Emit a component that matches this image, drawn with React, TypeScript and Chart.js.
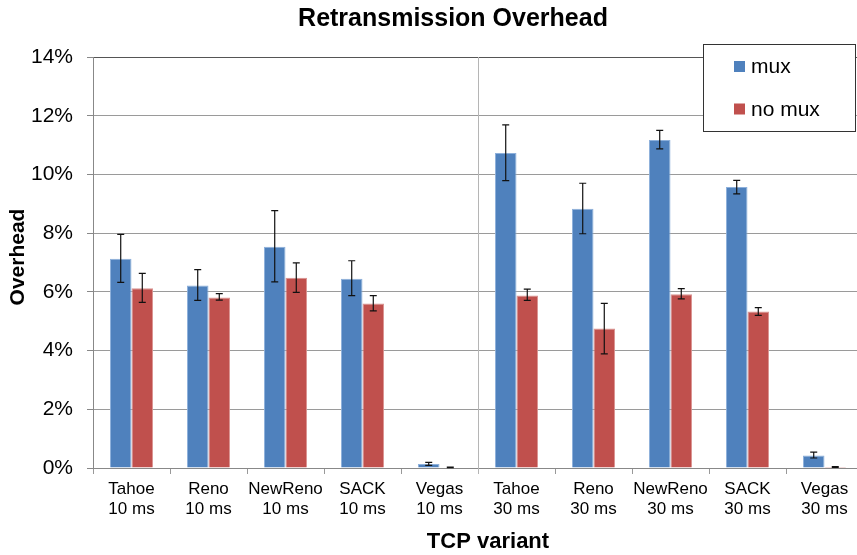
import React, { useEffect, useRef } from "react";
import { Chart, registerables } from "chart.js";

Chart.register(...registerables);

// TCP variants and link delays (x categories)
const variants = ["Tahoe", "Reno", "NewReno", "SACK", "Vegas", "Tahoe", "Reno", "NewReno", "SACK", "Vegas"];
const delays = ["10 ms", "10 ms", "10 ms", "10 ms", "10 ms", "30 ms", "30 ms", "30 ms", "30 ms", "30 ms"];

// Retransmission overhead in percent
const muxValues = [7.13, 6.22, 7.54, 6.45, 0.14, 10.73, 8.83, 11.17, 9.57, 0.43];
const muxLow = [6.32, 5.71, 6.34, 5.87, 0.09, 9.79, 7.98, 10.87, 9.34, 0.34];
const muxHigh = [7.96, 6.76, 8.77, 7.06, 0.19, 11.69, 9.7, 11.5, 9.8, 0.54];

const noMuxValues = [6.12, 5.81, 6.48, 5.6, 0.02, 5.88, 4.75, 5.92, 5.33, 0.035];
const noMuxLow = [5.64, 5.72, 5.98, 5.35, 0.01, 5.71, 3.89, 5.76, 5.2, 0.02];
const noMuxHigh = [6.63, 5.94, 6.99, 5.87, 0.03, 6.09, 5.61, 6.11, 5.46, 0.05];

// Y axis ticks
const yTicks = [0, 2, 4, 6, 8, 10, 12, 14];

const FONT = "'Liberation Sans', Arial, Helvetica, sans-serif";

const errorRanges = [
  { low: muxLow, high: muxHigh },
  { low: noMuxLow, high: noMuxHigh },
];

const decorations = {
  id: "decorations",
  beforeDatasetsDraw(chart: any) {
    const { ctx, chartArea, scales } = chart;
    const xs = scales.x;
    // separator between the 10 ms and 30 ms groups
    const sep = (xs.getPixelForValue(4) + xs.getPixelForValue(5)) / 2;
    ctx.save();
    ctx.strokeStyle = "#b5b5b5";
    ctx.lineWidth = 1;
    ctx.beginPath();
    ctx.moveTo(Math.round(sep) + 0.5, chartArea.top);
    ctx.lineTo(Math.round(sep) + 0.5, chartArea.bottom + 6);
    ctx.stroke();
    ctx.restore();
  },
  afterDatasetsDraw(chart: any) {
    const { ctx, scales } = chart;
    const ys = scales.y;
    ctx.save();
    ctx.strokeStyle = "#111";
    ctx.lineWidth = 1.2;
    errorRanges.forEach((r, di) => {
      const meta = chart.getDatasetMeta(di);
      meta.data.forEach((el: any, i: number) => {
        const x = el.x;
        const yl = ys.getPixelForValue(r.low[i]);
        const yh = ys.getPixelForValue(r.high[i]);
        const cap = 3.5;
        ctx.beginPath();
        ctx.moveTo(x, yl);
        ctx.lineTo(x, yh);
        ctx.moveTo(x - cap, yl);
        ctx.lineTo(x + cap, yl);
        ctx.moveTo(x - cap, yh);
        ctx.lineTo(x + cap, yh);
        ctx.stroke();
      });
    });
    ctx.restore();
  },
  afterDraw(chart: any) {
    const { ctx, data } = chart;
    ctx.save();
    // chart title
    ctx.fillStyle = "#000";
    ctx.font = `bold 25px ${FONT}`;
    ctx.textAlign = "center";
    ctx.textBaseline = "alphabetic";
    ctx.fillText("Retransmission Overhead", 453, 26);

    // axis titles
    ctx.font = `bold 22px ${FONT}`;
    ctx.textBaseline = "middle";
    ctx.fillText("TCP variant", 488, 542);

    ctx.save();
    ctx.translate(18, 257);
    ctx.rotate(-Math.PI / 2);
    ctx.font = `bold 21px ${FONT}`;
    ctx.fillText("Overhead", 0, 0);
    ctx.restore();

    // legend box
    const bx = 703.5, by = 44.5, bw = 152, bh = 87;
    ctx.fillStyle = "#fff";
    ctx.fillRect(bx, by, bw, bh);
    ctx.strokeStyle = "#333";
    ctx.lineWidth = 1;
    ctx.strokeRect(bx, by, bw, bh);
    ctx.font = `21px ${FONT}`;
    ctx.textAlign = "left";
    ctx.textBaseline = "middle";
    const rows = [66.5, 109];
    data.datasets.forEach((ds: any, i: number) => {
      ctx.fillStyle = ds.backgroundColor;
      ctx.fillRect(734, rows[i] - 5.5, 11, 11);
      ctx.fillStyle = "#000";
      ctx.fillText(ds.label, 751, rows[i] + 1);
    });
    ctx.restore();
  },
};

export default function App() {
  const ref = useRef<HTMLCanvasElement | null>(null);

  useEffect(() => {
    if (!ref.current) return;
    const chart = new Chart(ref.current, {
      type: "bar",
      data: {
        labels: variants.map((v, i) => [v, delays[i]]),
        datasets: [
          {
            label: "mux",
            data: muxValues,
            backgroundColor: "#4F81BD",
            borderColor: "#8DB0DB",
            borderWidth: 1,
            categoryPercentage: 0.56,
            barPercentage: 1,
          },
          {
            label: "no mux",
            data: noMuxValues,
            backgroundColor: "#C0504D",
            borderColor: "#D99391",
            borderWidth: 1,
            categoryPercentage: 0.56,
            barPercentage: 1,
          },
        ],
      },
      options: {
        responsive: false,
        animation: false,
        devicePixelRatio: 1,
        layout: { padding: { top: 57, right: 7, left: 0, bottom: 0 } },
        plugins: {
          legend: { display: false },
          title: { display: false },
          tooltip: { enabled: false },
        },
        scales: {
          x: {
            afterFit: (s: any) => {
              s.height = 87;
            },
            grid: {
              offset: true,
              drawOnChartArea: false,
              tickLength: 6,
              color: "#999",
            },
            border: { color: "#888", width: 1 },
            ticks: {
              color: "#000",
              font: { family: FONT, size: 17 },
              padding: 5,
              maxRotation: 0,
              autoSkip: false,
            },
          },
          y: {
            min: 0,
            max: 14,
            afterFit: (s: any) => {
              s.width = 93;
            },
            afterBuildTicks: (s: any) => {
              s.ticks = yTicks.map((v) => ({ value: v }));
            },
            grid: {
              tickLength: 6,
              color: (c: any) => (c.tick && c.tick.value === 14 ? "#555" : "#9a9a9a"),
              tickColor: "#888",
            },
            border: { color: "#888", width: 1 },
            ticks: {
              color: "#000",
              font: { family: FONT, size: 21 },
              padding: 14,
              callback: (v: any) => `${v}%`,
            },
          },
        },
      },
      plugins: [decorations],
    });
    return () => chart.destroy();
  }, []);

  return (
    <div
      style={{
        position: "fixed",
        left: 0,
        top: 0,
        width: 857,
        height: 555,
        overflow: "hidden",
        background: "#fff",
      }}
    >
      <canvas ref={ref} width={870} height={555} style={{ width: 870, height: 555, display: "block" }} />
    </div>
  );
}
